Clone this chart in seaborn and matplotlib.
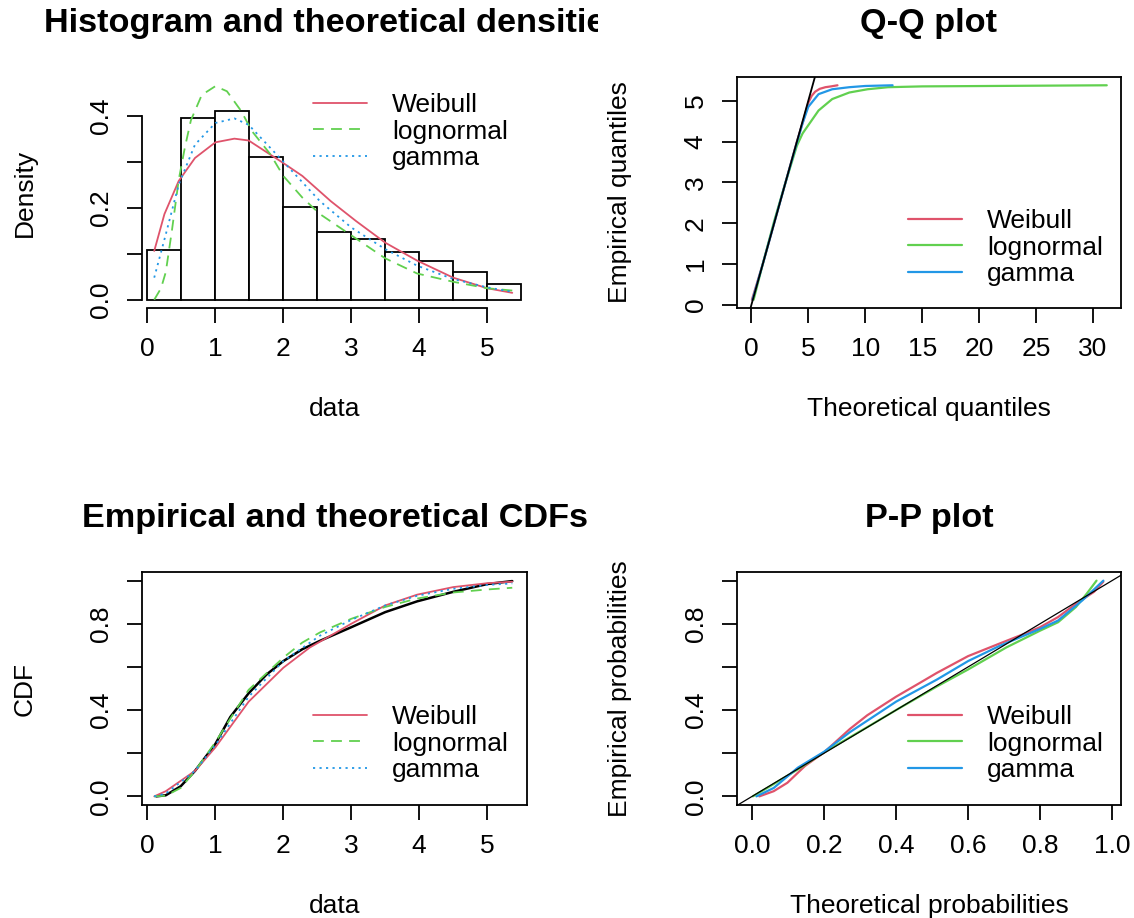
import numpy as np
import pandas as pd
import matplotlib
matplotlib.use("Agg")
import matplotlib.pyplot as plt
from matplotlib.patches import Rectangle
import seaborn as sns

# ---------------- data ----------------
dist_names = ["Weibull", "lognormal", "gamma"]
dist_colors = ["#DF536B", "#61D04F", "#2297E6"]

hist_breaks = [0.0, 0.5, 1.0, 1.5, 2.0, 2.5, 3.0, 3.5, 4.0, 4.5, 5.0, 5.5]
hist_density = [0.108, 0.395, 0.411, 0.310, 0.202, 0.147, 0.131, 0.104, 0.085, 0.061, 0.034]

dens_weibull_x = [0.10, 0.25, 0.46, 0.70, 1.00, 1.28, 1.49, 2.00, 2.28, 2.70, 3.07, 3.50, 3.97, 4.50, 5.00, 5.37]
dens_weibull_y = [0.106, 0.186, 0.258, 0.308, 0.342, 0.350, 0.346, 0.297, 0.269, 0.214, 0.171, 0.124, 0.085, 0.048, 0.025, 0.015]
dens_lnorm_x = [0.10, 0.20, 0.27, 0.36, 0.46, 0.55, 0.64, 0.80, 1.00, 1.17, 1.38, 1.54, 1.81, 2.00, 2.28, 2.54, 3.00, 3.50, 3.97, 4.50, 5.00, 5.37]
dens_lnorm_y = [0.000, 0.025, 0.060, 0.150, 0.260, 0.330, 0.390, 0.445, 0.464, 0.453, 0.410, 0.366, 0.316, 0.269, 0.222, 0.186, 0.140, 0.090, 0.057, 0.039, 0.025, 0.020]
dens_gamma_x = [0.10, 0.27, 0.46, 0.70, 1.00, 1.28, 1.49, 2.00, 2.54, 3.00, 3.50, 3.97, 4.50, 5.00, 5.37]
dens_gamma_y = [0.048, 0.142, 0.250, 0.337, 0.384, 0.394, 0.380, 0.300, 0.214, 0.157, 0.110, 0.074, 0.045, 0.027, 0.017]

qq_weibull_x = [0.05, 1.0, 2.0, 3.0, 4.0, 4.6, 5.0, 5.3, 5.6, 6.0, 6.5, 7.0, 7.56]
qq_weibull_y = [0.13, 1.0, 2.0, 3.0, 4.0, 4.55, 4.95, 5.12, 5.22, 5.29, 5.33, 5.35, 5.377]
qq_lnorm_x = [0.20, 1.0, 2.0, 3.0, 3.5, 4.0, 4.5, 5.0, 5.9, 7.1, 8.6, 10.2, 12.0, 15.0, 31.2]
qq_lnorm_y = [0.13, 1.0, 2.05, 3.0, 3.45, 3.9, 4.2, 4.4, 4.76, 5.04, 5.2, 5.28, 5.33, 5.35, 5.377]
qq_gamma_x = [0.10, 1.0, 2.0, 3.0, 4.0, 4.5, 5.0, 5.9, 7.1, 8.6, 10.0, 12.4]
qq_gamma_y = [0.13, 1.0, 2.0, 3.0, 3.98, 4.45, 4.85, 5.16, 5.28, 5.33, 5.36, 5.377]

cdf_emp_x = [0.13, 0.27, 0.49, 0.70, 1.00, 1.22, 1.49, 1.75, 2.00, 2.28, 2.54, 3.00, 3.50, 3.97, 4.50, 5.00, 5.37]
cdf_emp_y = [0.0, 0.005, 0.047, 0.118, 0.243, 0.368, 0.478, 0.564, 0.627, 0.682, 0.721, 0.784, 0.854, 0.904, 0.948, 0.984, 0.998]
cdf_weibull_x = [0.10, 0.27, 0.70, 1.00, 1.49, 2.00, 2.39, 3.00, 3.50, 3.97, 4.50, 5.00, 5.37]
cdf_weibull_y = [0.0, 0.024, 0.118, 0.227, 0.439, 0.596, 0.690, 0.800, 0.885, 0.935, 0.970, 0.988, 0.995]
cdf_lnorm_x = [0.10, 0.27, 0.49, 0.70, 1.00, 1.49, 2.00, 2.28, 2.54, 3.00, 3.50, 3.97, 4.50, 5.00, 5.37]
cdf_lnorm_y = [0.0, 0.003, 0.039, 0.118, 0.251, 0.494, 0.643, 0.713, 0.760, 0.823, 0.878, 0.917, 0.945, 0.959, 0.967]
cdf_gamma_x = [0.10, 0.27, 0.70, 1.00, 1.49, 2.00, 2.54, 3.00, 3.50, 3.97, 4.50, 5.00, 5.37]
cdf_gamma_y = [0.0, 0.013, 0.118, 0.238, 0.462, 0.627, 0.745, 0.818, 0.885, 0.930, 0.962, 0.980, 0.987]

pp_weibull_x = [0.02, 0.06, 0.098, 0.147, 0.20, 0.272, 0.32, 0.40, 0.465, 0.513, 0.60, 0.687, 0.754, 0.80, 0.85, 0.90, 0.95, 0.976]
pp_weibull_y = [0.0, 0.024, 0.063, 0.141, 0.204, 0.313, 0.376, 0.462, 0.525, 0.572, 0.650, 0.708, 0.752, 0.784, 0.831, 0.893, 0.948, 0.995]
pp_lnorm_x = [0.002, 0.05, 0.127, 0.20, 0.32, 0.40, 0.513, 0.60, 0.706, 0.80, 0.85, 0.90, 0.93, 0.957]
pp_lnorm_y = [0.0, 0.047, 0.125, 0.204, 0.321, 0.400, 0.509, 0.588, 0.690, 0.768, 0.807, 0.878, 0.940, 1.0]
pp_gamma_x = [0.012, 0.06, 0.127, 0.20, 0.272, 0.40, 0.513, 0.60, 0.687, 0.80, 0.85, 0.918, 0.976]
pp_gamma_y = [0.0, 0.039, 0.133, 0.207, 0.298, 0.439, 0.541, 0.627, 0.697, 0.776, 0.815, 0.909, 1.0]

titles = ["Histogram and theoretical densities", "Q-Q plot",
          "Empirical and theoretical CDFs", "P-P plot"]

# ---------------- style ----------------
sns.set_style("ticks")
plt.rcParams["font.family"] = ["Liberation Sans", "DejaVu Sans"]
plt.rcParams["axes.linewidth"] = 1.3
for k in ["text.color", "axes.labelcolor", "xtick.color", "ytick.color",
          "xtick.labelcolor", "ytick.labelcolor", "axes.edgecolor"]:
    plt.rcParams[k] = "black"

W, H = 1134, 918
fig = plt.figure(figsize=(W / 100, H / 100), dpi=100)

def box(x0, x1, y0, y1):
    return [x0 / W, 1 - y1 / H, (x1 - x0) / W, (y1 - y0) / H]

ax1 = fig.add_axes(box(142, 527, 76.7, 308.3))
ax2 = fig.add_axes(box(737, 1121, 76.7, 308.3))
ax3 = fig.add_axes(box(142, 527, 572, 805))
ax4 = fig.add_axes(box(737, 1121, 572, 805))

FS = 19
LW = 1.3
dash_ln = (0, (6, 4))
dot_g = (0, (1.2, 2.4))
styles_dens = ["-", dash_ln, dot_g]

def curve(ax, x, y, color, ls="-", lw=LW, label=None):
    sns.lineplot(x=x, y=y, ax=ax, color=color, linestyle=ls, linewidth=lw,
                 estimator=None, sort=False, label=label)

# ---- panel 1: histogram + densities
centers = [(a + b) / 2 for a, b in zip(hist_breaks[:-1], hist_breaks[1:])]
sns.histplot(x=centers, weights=hist_density, bins=hist_breaks, stat="count",
             color="white", edgecolor="black", linewidth=LW, alpha=1, ax=ax1)
dens = [(dens_weibull_x, dens_weibull_y), (dens_lnorm_x, dens_lnorm_y), (dens_gamma_x, dens_gamma_y)]
for (x, y), c, ls, nm in zip(dens, dist_colors, styles_dens, dist_names):
    curve(ax1, x, y, c, ls, label=nm)
ax1.set_xlim(-0.08, 5.587)
ax1.set_ylim(-0.0186, 0.4846)
for s in ["top", "right"]:
    ax1.spines[s].set_visible(False)
ax1.spines["left"].set_bounds(0, 0.4)
ax1.spines["bottom"].set_bounds(0, 5)
ax1.set_xticks(range(6))
ax1.set_xticklabels([str(i) for i in range(6)])
ax1.set_yticks([0, 0.1, 0.2, 0.3, 0.4])
ax1.set_yticklabels(["0.0", "", "0.2", "", "0.4"])
ax1.set_xlabel("data")
ax1.set_ylabel("Density")

# ---- panel 2: Q-Q
qq = [(qq_weibull_x, qq_weibull_y), (qq_lnorm_x, qq_lnorm_y), (qq_gamma_x, qq_gamma_y)]
for (x, y), c, nm in zip(qq, dist_colors, dist_names):
    curve(ax2, x, y, c, "-", lw=1.6, label=nm)
ax2.axline((0, 0), slope=1, color="black", linewidth=LW)
ax2.set_xlim(-1.26, 32.45)
ax2.set_ylim(-0.08, 5.587)
ax2.set_xticks(range(0, 31, 5))
ax2.set_xticklabels([str(v) for v in range(0, 31, 5)])
ax2.set_yticks(range(6))
ax2.set_yticklabels([str(v) for v in range(6)])
ax2.set_xlabel("Theoretical quantiles")
ax2.set_ylabel("Empirical quantiles")

# ---- panel 3: CDFs
curve(ax3, cdf_emp_x, cdf_emp_y, "black", "-", lw=1.8)
cdfs = [(cdf_weibull_x, cdf_weibull_y), (cdf_lnorm_x, cdf_lnorm_y), (cdf_gamma_x, cdf_gamma_y)]
for (x, y), c, ls, nm in zip(cdfs, dist_colors, styles_dens, dist_names):
    curve(ax3, x, y, c, ls, label=nm)
ax3.set_xlim(-0.08, 5.587)
ax3.set_ylim(-0.04, 1.04)
ax3.set_xticks(range(6))
ax3.set_xticklabels([str(i) for i in range(6)])
ax3.set_yticks([0, 0.2, 0.4, 0.6, 0.8, 1.0])
ax3.set_yticklabels(["0.0", "", "0.4", "", "0.8", ""])
ax3.set_xlabel("data")
ax3.set_ylabel("CDF")

# ---- panel 4: P-P
pp = [(pp_weibull_x, pp_weibull_y), (pp_lnorm_x, pp_lnorm_y), (pp_gamma_x, pp_gamma_y)]
for (x, y), c, nm in zip(pp, dist_colors, dist_names):
    curve(ax4, x, y, c, "-", lw=1.6, label=nm)
ax4.axline((0, 0), slope=1, color="black", linewidth=0.9)
ax4.set_xlim(-0.042, 1.025)
ax4.set_ylim(-0.04, 1.04)
ax4.set_xticks([0, 0.2, 0.4, 0.6, 0.8, 1.0])
ax4.set_xticklabels(["0.0", "0.2", "0.4", "0.6", "0.8", "1.0"])
ax4.set_yticks([0, 0.2, 0.4, 0.6, 0.8, 1.0])
ax4.set_yticklabels(["0.0", "", "0.4", "", "0.8", ""])
ax4.set_xlabel("Theoretical probabilities")
ax4.set_ylabel("Empirical probabilities")

# ---- common formatting
legend_pos = [(313, 93), (908, 209), (313, 705), (908, 705)]
for ax, title, (lx, ly) in zip([ax1, ax2, ax3, ax4], titles, legend_pos):
    ax.tick_params(direction="out", length=11, width=LW, labelsize=FS, pad=10,
                   colors="black")
    ax.tick_params(axis="y", labelrotation=90)
    plt.setp(ax.get_yticklabels(), va="center")
    for s in ax.spines.values():
        s.set_linewidth(LW)
        s.set_color("black")
    ax.xaxis.label.set_fontsize(FS)
    ax.yaxis.label.set_fontsize(FS)
    ax.xaxis.label.set_color("black")
    ax.yaxis.label.set_color("black")
    ax.xaxis.set_label_coords(0.5, -0.435)
    ax.xaxis.label.set_va("center")
    ax.yaxis.set_label_coords(-0.305, 0.5)
    ax.yaxis.label.set_va("center")
    t = ax.set_title(title, fontsize=24.7, fontweight="bold", y=1.23, va="center",
                     pad=0, color="black")
    if ax is ax1:
        clip = Rectangle((0, 0), 598 / W, 1, transform=fig.transFigure)
        t.set_clip_path(clip)
        t.set_clip_on(True)
    handles, labels = ax.get_legend_handles_labels()
    leg = ax.legend(handles, labels, loc="upper left",
                    bbox_to_anchor=(lx / W, 1 - ly / H), bbox_transform=fig.transFigure,
                    frameon=False, fontsize=FS, handlelength=2.05, handletextpad=0.95,
                    labelspacing=0.1, borderpad=0, borderaxespad=0)
    for txt in leg.get_texts():
        txt.set_color("black")

fig.savefig("out.png", dpi=100)
